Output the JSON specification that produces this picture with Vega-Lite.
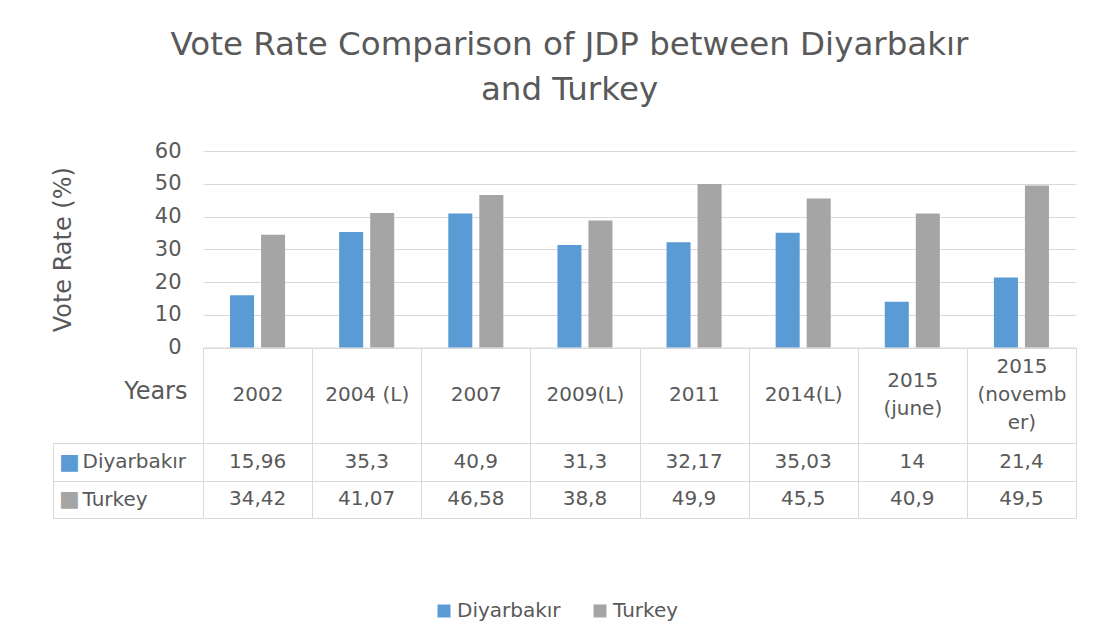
{
  "$schema": "https://vega.github.io/schema/vega-lite/v6.json",
  "width": 873,
  "height": 367,
  "autosize": {"type": "none"},
  "padding": {"left": 203, "top": 151, "right": 17, "bottom": 124},
  "background": "white",
  "config": {
    "font": "DejaVu Sans",
    "view": {"stroke": null},
    "locale": {"number": {"decimal": ",", "thousands": ".", "grouping": [3], "currency": ["", ""]}}
  },
  "title": {
    "text": ["Vote Rate Comparison of JDP between Diyarbakır", "and Turkey"],
    "fontSize": 32.5,
    "fontWeight": "normal",
    "color": "#595959",
    "lineHeight": 45,
    "anchor": "middle",
    "dx": -70,
    "offset": 34,
    "frame": "group"
  },
  "data": {
    "values": [
      {"year": "2002", "series": "Diyarbakır", "value": 15.96},
      {"year": "2002", "series": "Turkey", "value": 34.42},
      {"year": "2004 (L)", "series": "Diyarbakır", "value": 35.3},
      {"year": "2004 (L)", "series": "Turkey", "value": 41.07},
      {"year": "2007", "series": "Diyarbakır", "value": 40.9},
      {"year": "2007", "series": "Turkey", "value": 46.58},
      {"year": "2009(L)", "series": "Diyarbakır", "value": 31.3},
      {"year": "2009(L)", "series": "Turkey", "value": 38.8},
      {"year": "2011", "series": "Diyarbakır", "value": 32.17},
      {"year": "2011", "series": "Turkey", "value": 49.9},
      {"year": "2014(L)", "series": "Diyarbakır", "value": 35.03},
      {"year": "2014(L)", "series": "Turkey", "value": 45.5},
      {"year": "2015 (june)", "series": "Diyarbakır", "value": 14},
      {"year": "2015 (june)", "series": "Turkey", "value": 40.9},
      {"year": "2015 (november)", "series": "Diyarbakır", "value": 21.4},
      {"year": "2015 (november)", "series": "Turkey", "value": 49.5}
    ]
  },
  "layer": [
    {
      "mark": {"type": "bar"},
      "encoding": {
        "x": {
          "field": "year", "type": "nominal", "sort": null,
          "scale": {"paddingInner": 0, "paddingOuter": 0},
          "axis": {
            "orient": "bottom", "offset": -170.5,
            "domain": true, "domainColor": "#D9D9D9",
            "ticks": true, "tickBand": "extent", "tickSize": 170, "tickColor": "#D9D9D9",
            "labelPadding": {"condition": [
              {"test": "datum.value === '2015 (june)'", "value": -137},
              {"test": "datum.value === '2015 (november)'", "value": -151}
            ], "value": -123},
            "labelBaseline": "middle", "labelFontSize": 20,
            "labelColor": "#595959", "labelAngle": 0, "labelLineHeight": 28,
            "labelOverlap": false, "labelFlush": false, "labelLimit": 0,
            "labelExpr": "datum.label === '2015 (june)' ? ['2015', '(june)'] : datum.label === '2015 (november)' ? ['2015', '(novemb', 'er)'] : datum.label",
            "title": "Years", "titleX": -16, "titleY": 44, "titleAlign": "right",
            "titleBaseline": "middle", "titleAngle": 0, "titleFontSize": 24,
            "titleFontWeight": "normal", "titleColor": "#595959"
          }
        },
        "xOffset": {
          "field": "series", "type": "nominal", "sort": ["Diyarbakır", "Turkey"],
          "scale": {"paddingInner": 0.2258, "paddingOuter": 0.871}
        },
        "y": {
          "field": "value", "type": "quantitative",
          "scale": {"domain": [0, 60], "range": [196.5, 0], "nice": false},
          "axis": {
            "values": [0, 10, 20, 30, 40, 50, 60],
            "domain": false, "ticks": false, "grid": true, "gridColor": "#D9D9D9",
            "labelFontSize": 21, "labelColor": "#595959", "labelPadding": 22,
            "title": "Vote Rate (%)", "titleFontSize": 24, "titleFontWeight": "normal",
            "titleColor": "#595959", "titlePadding": 79
          }
        },
        "color": {
          "field": "series", "type": "nominal",
          "scale": {"domain": ["Diyarbakır", "Turkey"], "range": ["#5B9BD5", "#A5A5A5"]},
          "legend": {
            "orient": "none", "legendX": 231, "legendY": 450, "direction": "horizontal",
            "title": null, "symbolType": "square", "symbolSize": 169, "symbolStrokeWidth": 0,
            "labelFontSize": 20, "labelColor": "#595959", "columnPadding": 29,
            "labelOffset": 3, "padding": 0
          }
        }
      }
    },
    {
      "mark": {"type": "text", "fontSize": 20, "color": "#595959"},
      "encoding": {
        "x": {"field": "year", "type": "nominal", "sort": null},
        "y": {
          "field": "series", "type": "nominal", "sort": ["Diyarbakır", "Turkey"],
          "scale": {"type": "band", "range": [292, 367], "paddingInner": 0, "paddingOuter": 0},
          "axis": {
            "orient": "left", "domain": false,
            "ticks": true, "tickBand": "extent", "tickSize": 150, "tickColor": "#D9D9D9",
            "grid": true, "gridColor": "#D9D9D9",
            "labelAlign": "left", "labelPadding": -29, "labelFontSize": 20,
            "labelColor": "#595959", "labelBaseline": "middle", "title": null
          }
        },
        "text": {"field": "value", "type": "quantitative", "format": "~g"}
      }
    },
    {
      "mark": {"type": "text", "opacity": 0},
      "encoding": {
        "y": {
          "field": "series", "type": "nominal", "sort": ["Diyarbakır", "Turkey"],
          "scale": {"type": "band", "range": [292, 367], "paddingInner": 0, "paddingOuter": 0},
          "axis": {
            "orient": "left", "offset": 150,
            "domain": true, "domainColor": "#D9D9D9",
            "ticks": false, "grid": false,
            "labelExpr": "'■'",
            "labelColor": {"condition": {"test": "datum.value === 'Diyarbakır'", "value": "#5B9BD5"}, "value": "#A5A5A5"},
            "labelAlign": "center", "labelPadding": -16, "labelFontSize": 22,
            "labelBaseline": "middle", "title": null
          }
        },
        "text": {"field": "value", "type": "quantitative"}
      }
    }
  ],
  "resolve": {"scale": {"y": "independent"}, "axis": {"y": "independent"}}
}
